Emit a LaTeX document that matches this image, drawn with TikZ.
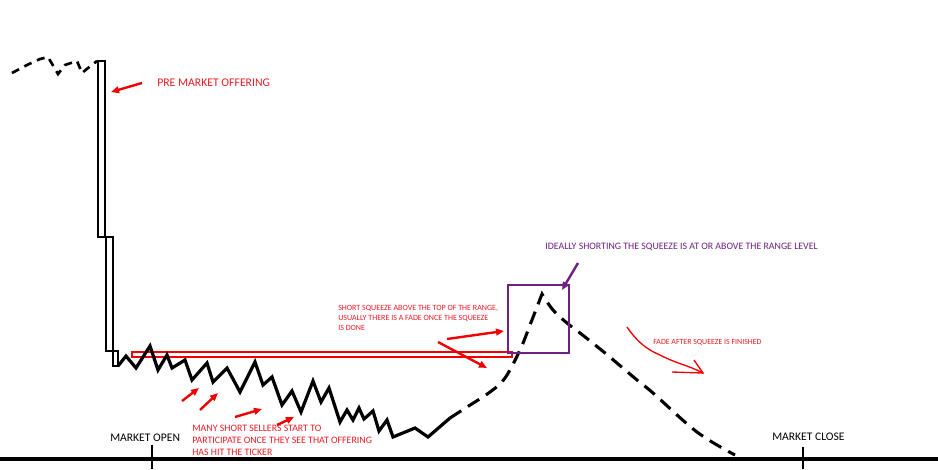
\documentclass[tikz,border=0pt]{standalone}
\usepackage{fontspec}
\setmainfont{Carlito}
\usetikzlibrary{arrows.meta}
\definecolor{redtxt}{RGB}{232,28,36}
\definecolor{arrred}{RGB}{240,0,0}
\definecolor{purp}{RGB}{112,32,128}
\begin{document}
\begin{tikzpicture}[x=0.75pt,y=-0.75pt,
  chart/.style={line width=2.4pt},
  candle/.style={line width=1.6pt},
  dashline/.style={line width=2.3pt, dash pattern=on 10pt off 6pt},
  predash/.style={line width=2pt, dash pattern=on 6pt off 4.5pt},
  redarrow/.style={draw=arrred, line width=1.8pt, -{Triangle[length=6pt,width=5pt]}},
  purparrow/.style={draw=purp, line width=1.8pt, -{Triangle[length=6pt,width=5pt]}},
  lbl/.style={inner sep=0pt, anchor=west},
  redlbl/.style={lbl, text=redtxt},
  axis/.style={line width=2.6pt}
]
\useasboundingbox (0,0) rectangle (938,469);
\fill[white] (0,0) rectangle (938,469);

% pre-market dashed
\draw[predash] (12,73) -- (27,65) -- (40,59) -- (48,57) -- (58,74) -- (65,65) -- (77,61) -- (82,73) -- (88,68) -- (97,61);

% candles
\draw[candle] (98,61) rectangle (105,237);
\draw[candle] (105,237) -- (98,237);
\draw[candle] (106,237) rectangle (113,351);
\draw[candle] (113,351) rectangle (118,366);

% range rectangle
\draw[arrred, line width=1.7pt] (132,352) rectangle (512,357);

% solid zigzag
\draw[chart] (118,366) -- (126,356) -- (136,368) -- (150,346) -- (158,370) -- (167,355) -- (172,368) -- (185,360) -- (192,380) -- (207,363) -- (213,382) -- (227,368) -- (240,392) -- (255,362) -- (263,385) -- (272,377) -- (282,405) -- (292,391) -- (301,412) -- (313,381) -- (321,402) -- (329,388) -- (340,422) -- (347,410) -- (353,420) -- (359,408) -- (364,419) -- (373,411) -- (379,431) -- (387,420) -- (393,437) -- (415,428) -- (428,437) -- (450,418);

% dashed squeeze and fade
\draw[dashline] plot[smooth, tension=0.6] coordinates {(450,418) (467,407) (490,392) (505,378) (520,350) (530,325) (542,294)}
  -- plot[smooth, tension=0.6] coordinates {(542,294) (553,310) (567,323) (580,333) (605,353) (637,380) (653,393) (697,432) (735,455)};

% purple box
\draw[purp, line width=2pt] (508,285) rectangle (569,353);

% axis
\draw[axis] (0,459) -- (938,459);
\draw[line width=2.2pt] (152,445) -- (152,469);
\draw[line width=2.2pt] (803,447) -- (803,469);

% labels
\node[redlbl, font=\fontsize{8.8}{10.5}\selectfont] (pre) at (157,83) {PRE MARKET OFFERING};
\node[lbl, font=\fontsize{8.7}{10.5}\selectfont] (open) at (110,438) {MARKET OPEN};
\node[lbl, font=\fontsize{8.7}{10.5}\selectfont] (close) at (772,437) {MARKET CLOSE};
\node[lbl, text=purp, font=\fontsize{7.4}{9}\selectfont] (ideal) at (545,247) {IDEALLY SHORTING THE SQUEEZE IS AT OR ABOVE THE RANGE LEVEL};
\node[redlbl, font=\fontsize{5.9}{7}\selectfont] (fade) at (653,342) {FADE AFTER SQUEEZE IS FINISHED};
\node[inner sep=0pt, anchor=north west, align=left, text=redtxt, font=\fontsize{6}{7.6}\selectfont] (sq) at (338,305) {SHORT SQUEEZE ABOVE THE TOP OF THE RANGE,\\USUALLY THERE IS A FADE ONCE THE SQUEEZE\\IS DONE};
\node[inner sep=0pt, anchor=north west, align=left, text=redtxt, font=\fontsize{7.4}{8.8}\selectfont] (many) at (192,425) {MANY SHORT SELLERS START TO\\PARTICIPATE ONCE THEY SEE THAT OFFERING\\HAS HIT THE TICKER};

% arrows
\coordinate (a1s) at (142,83); \coordinate (a1e) at (111,92);
\draw[redarrow] (a1s) -- (a1e);
\coordinate (a2s) at (447,339); \coordinate (a2e) at (504,331);
\draw[redarrow] (a2s) -- (a2e);
\coordinate (a3s) at (438,342); \coordinate (a3e) at (487,368);
\draw[redarrow] (a3s) -- (a3e);
\coordinate (b1s) at (182,401); \coordinate (b1e) at (199,388);
\draw[redarrow] (b1s) -- (b1e);
\coordinate (b2s) at (200,410); \coordinate (b2e) at (218,393);
\draw[redarrow] (b2s) -- (b2e);
\coordinate (b3s) at (235,417); \coordinate (b3e) at (262,409);
\draw[redarrow] (b3s) -- (b3e);
\coordinate (b4s) at (277,425); \coordinate (b4e) at (294,417);
\draw[redarrow] (b4s) -- (b4e);
\coordinate (ps) at (578,263); \coordinate (pe) at (562,290);
\draw[purparrow] (ps) -- (pe);

% freehand fade arrow
\coordinate (fs) at (627,327); \coordinate (fm) at (660,355); \coordinate (fe) at (703,373);
\coordinate (fh1) at (672,372); \coordinate (fh2) at (694,360);
\draw[arrred, line width=1pt] (fs) .. controls (638,343) and (648,350) .. (fm) .. controls (675,363) and (690,366) .. (fe);
\draw[arrred, line width=1pt] (fh1) -- (fe) -- (fh2);
\end{tikzpicture}
\end{document}
